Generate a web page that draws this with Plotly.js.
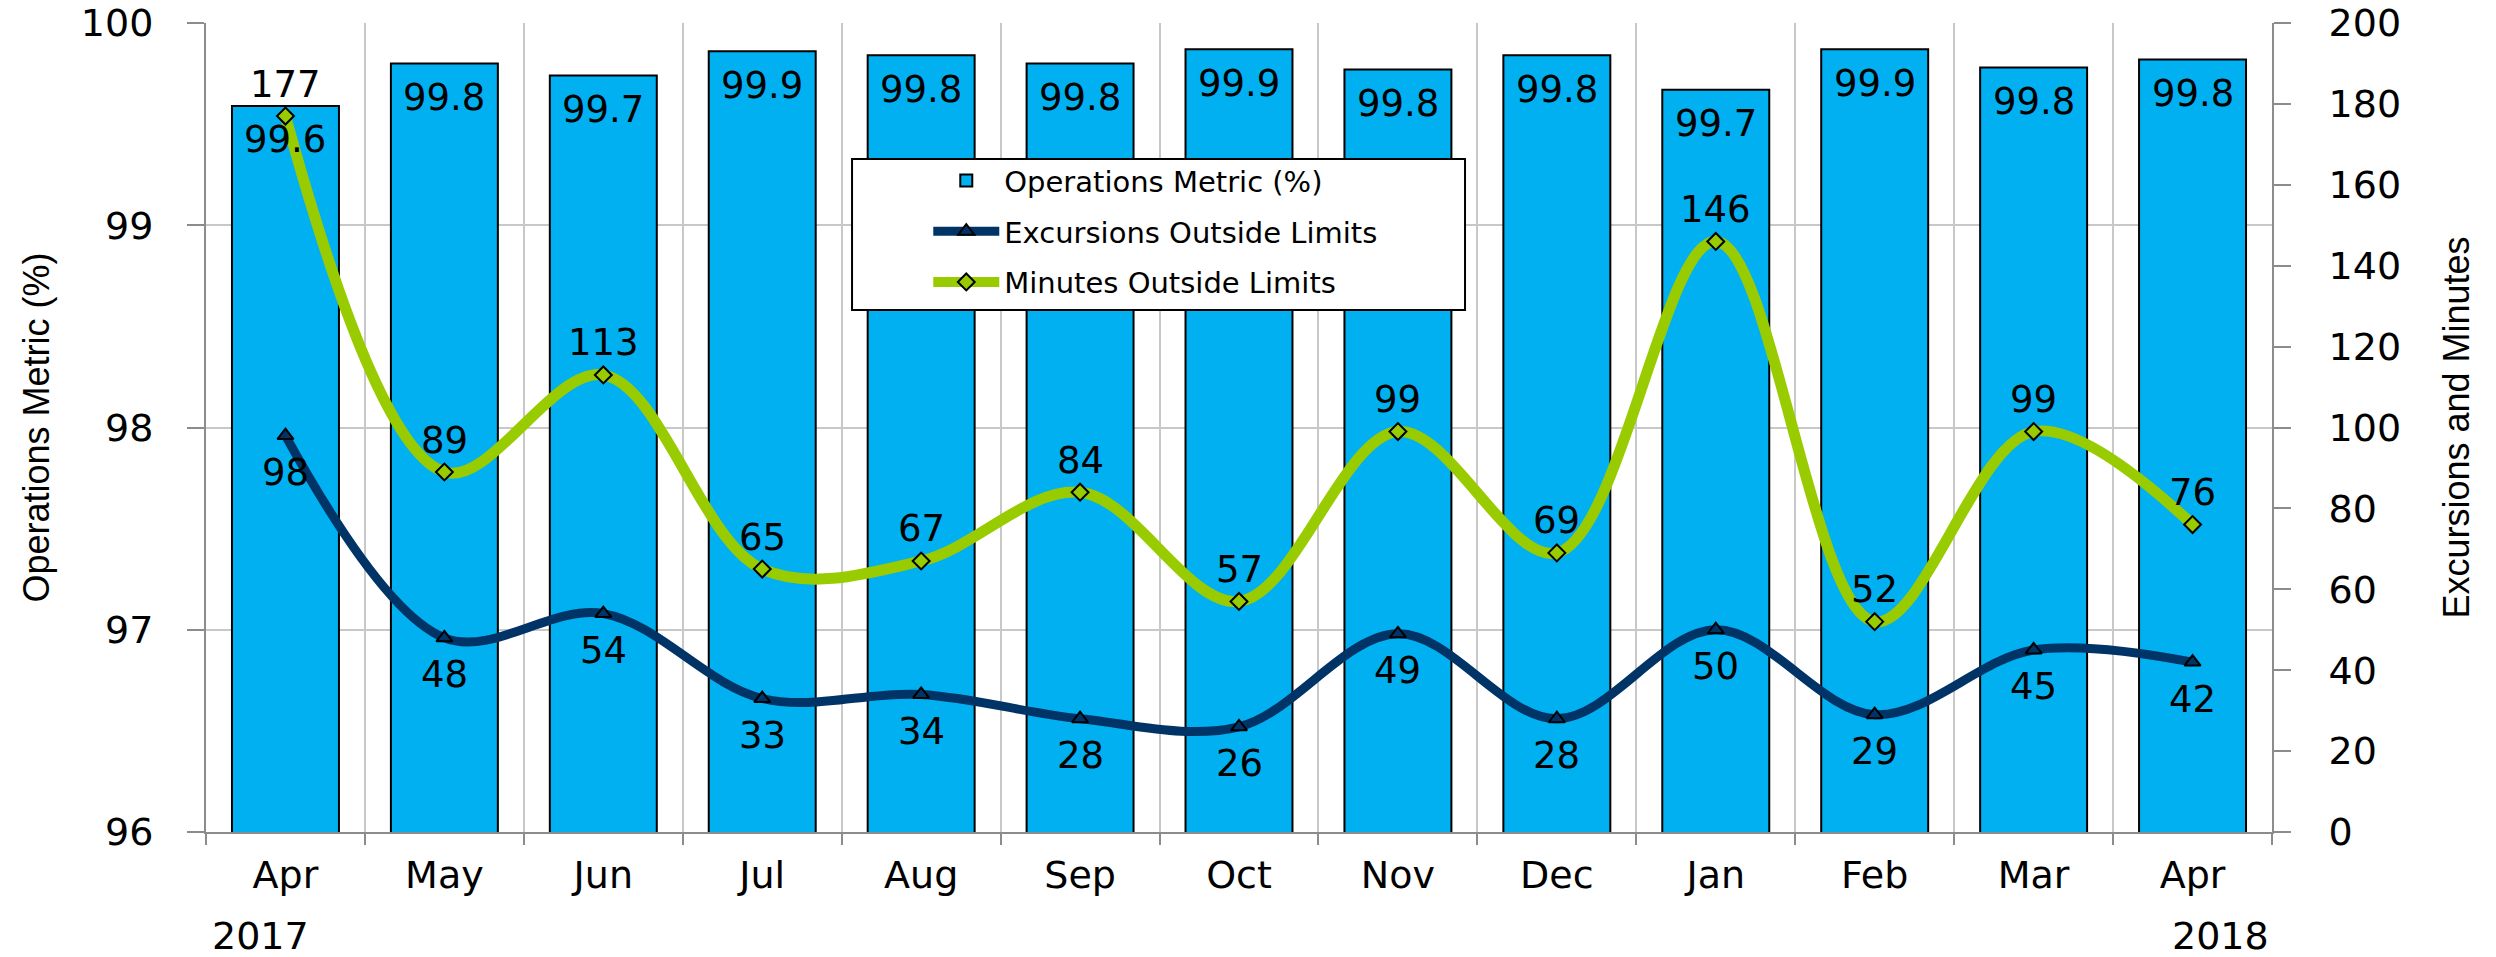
<!DOCTYPE html>
<html>
<head>
<meta charset="utf-8">
<script src="https://cdn.plot.ly/plotly-3.0.1.min.js"></script>
<style>html,body{margin:0;padding:0;background:#fff;}#chart{width:2496px;height:957px;}</style>
</head>
<body>
<div id="chart"></div>
<script>
// ---- data ----
const months = ['Apr','May','Jun','Jul','Aug','Sep','Oct','Nov','Dec','Jan','Feb','Mar','Apr'];
const years  = [2017,2017,2017,2017,2017,2017,2017,2017,2017,2018,2018,2018,2018];
const yearLabels = ['2017','','','','','','','','','','','','2018'];
const opsMetric  = [99.59,99.80,99.74,99.86,99.84,99.80,99.87,99.77,99.84,99.67,99.87,99.78,99.82];
const excursions = [98,48,54,33,34,28,26,49,28,50,29,45,42];
const minutes    = [177,89,113,65,67,84,57,99,69,146,52,99,76];

const cats = months.map((m,i)=> m + ' ' + years[i]);
const alias = {};
cats.forEach((c,i)=>{ alias[c] = months[i]; });

const baseFont = 'DejaVu Sans, Verdana, sans-serif';
const titleFont = 'Liberation Sans, Arial, sans-serif';
const labelSize = 37;

const traces = [
  {
    type:'bar', name:'Operations Metric (%)', x:cats, y:opsMetric,
    marker:{color:'#00B0F0', line:{color:'#000000', width:2}},
    legendgroup:'a', hoverinfo:'x+y'
  },
  {
    type:'scatter', mode:'lines+markers', name:'Excursions Outside Limits',
    x:cats, y:excursions, yaxis:'y2',
    line:{color:'#003366', width:9, shape:'spline', smoothing:1},
    marker:{symbol:'triangle-up', size:14, color:'#003366', line:{color:'#000', width:2}},
    legendgroup:'b'
  },
  {
    type:'scatter', mode:'lines+markers', name:'Minutes Outside Limits',
    x:cats, y:minutes, yaxis:'y2',
    line:{color:'#99CC00', width:11, shape:'spline', smoothing:1},
    marker:{symbol:'diamond', size:13, color:'#99CC00', line:{color:'#000', width:2}},
    legendgroup:'c'
  }
];

const annotations = [];
const lblFont = {family:baseFont, size:labelSize, color:'#000'};
// bar value labels (inside, near the top of each bar)
opsMetric.forEach((v,i)=>{
  annotations.push({x:cats[i], xref:'x', y:v, yref:'y', text:v.toFixed(1),
    showarrow:false, yanchor:'middle', yshift:-34, font:lblFont});
});
// excursions labels (below markers)
excursions.forEach((v,i)=>{
  annotations.push({x:cats[i], xref:'x', y:v, yref:'y2', text:String(v),
    showarrow:false, yanchor:'middle', yshift:-37, font:lblFont});
});
// minutes labels (above markers)
minutes.forEach((v,i)=>{
  annotations.push({x:cats[i], xref:'x', y:v, yref:'y2', text:String(v),
    showarrow:false, yanchor:'middle', yshift:32, font:lblFont});
});
// year labels under first and last month
yearLabels.forEach((t,i)=>{
  if(!t) return;
  annotations.push({
    x:cats[i], xref:'x', y:-0.129, yref:'paper', text:t, showarrow:false,
    xshift: i===0 ? -25 : 28, yanchor:'middle',
    font:{family:baseFont, size:38, color:'#000'}
  });
});

const layout = {
  width:2496, height:957,
  margin:{l:206, r:224, t:23, b:125},
  paper_bgcolor:'#fff', plot_bgcolor:'#fff',
  font:{family:baseFont, size:38, color:'#000'},
  bargap:0.327,
  showlegend:true,
  legend:{x:0.3496, y:0.8366, xanchor:'left', yanchor:'top',
    bgcolor:'rgba(0,0,0,0)', borderwidth:0,
    font:{family:baseFont, size:29, color:'#000'},
    itemwidth:66, tracegroupgap:10, traceorder:'grouped'},
  shapes:[{type:'rect', xref:'paper', yref:'paper',
    x0:0.3127, x1:0.6094, y0:0.6452, y1:0.8319,
    fillcolor:'#ffffff', line:{color:'#000', width:2}, layer:'above'}],
  xaxis:{
    type:'category', categoryorder:'array', categoryarray:cats,
    range:[-0.5, cats.length-0.5],
    labelalias:alias, tickson:'boundaries',
    ticks:'outside', ticklen:11, tickwidth:2, tickcolor:'#8c8c8c',
    showline:true, linecolor:'#8c8c8c', linewidth:2,
    showgrid:true, gridcolor:'#c8c8c8', gridwidth:2,
    tickfont:{family:baseFont, size:38, color:'#000'},
    ticklabelstandoff:8, zeroline:false
  },
  yaxis:{
    range:[96,100], dtick:1, tick0:96,
    ticks:'outside', ticklen:17, tickwidth:2, tickcolor:'#8c8c8c',
    showline:true, linecolor:'#8c8c8c', linewidth:2,
    showgrid:true, gridcolor:'#c8c8c8', gridwidth:2, zeroline:false,
    tickfont:{family:baseFont, size:38, color:'#000'},
    ticklabelstandoff:26,
    title:{text:'Operations Metric (%)', font:{family:titleFont, size:36, color:'#000'}, standoff:20}
  },
  yaxis2:{
    overlaying:'y', side:'right', range:[0,200], dtick:20, tick0:0,
    ticks:'outside', ticklen:17, tickwidth:2, tickcolor:'#8c8c8c',
    showline:true, linecolor:'#8c8c8c', linewidth:2,
    showgrid:false, zeroline:false,
    tickfont:{family:baseFont, size:38, color:'#000'},
    ticklabelstandoff:30,
    title:{text:'Excursions and Minutes', font:{family:titleFont, size:36, color:'#000'}, standoff:44}
  },
  annotations:annotations
};

Plotly.newPlot('chart', traces, layout, {displayModeBar:false, staticPlot:true});
</script>
</body>
</html>
